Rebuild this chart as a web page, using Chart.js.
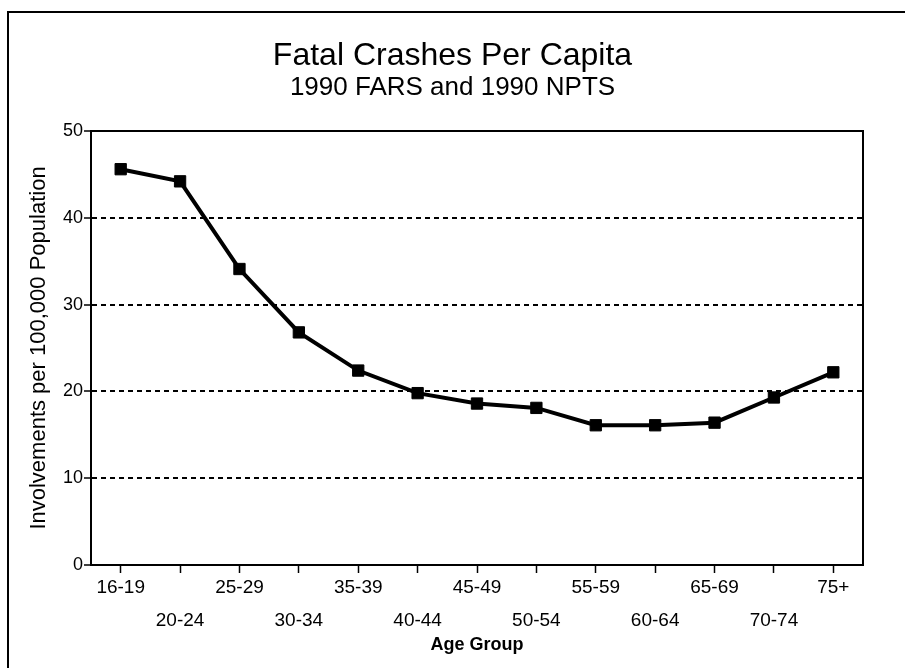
<!DOCTYPE html>
<html>
<head>
<meta charset="utf-8">
<title>Fatal Crashes Per Capita</title>
<script src="https://cdn.jsdelivr.net/npm/chart.js@4.4.0/dist/chart.umd.min.js"></script>
<style>
    html, body {
        margin: 0;
        padding: 0;
        background: #fff;
    }
    #wrap {
        position: relative;
        width: 905px;
        height: 668px;
        overflow: hidden;
    }
    #frame {
        position: absolute;
        left: 7px;
        top: 11px;
        right: -5px;
        bottom: -5px;
        border-top: 2px solid #000;
        border-left: 2px solid #000;
    }
    #chart {
        position: absolute;
        left: 0;
        top: 0;
    }
</style>
</head>
<body>
<div id="wrap">
    <div id="frame"></div>
    <canvas id="chart" width="905" height="668"></canvas>
</div>
<script>
// Values
const ageGroups = ['16-19', '20-24', '25-29', '30-34', '35-39', '40-44', '45-49',
                   '50-54', '55-59', '60-64', '65-69', '70-74', '75+'];
const involvements = [45.6, 44.2, 34.1, 26.8, 22.4, 19.8, 18.6, 18.1, 16.1, 16.1, 16.4, 19.3, 22.2];
const yMin = 0;
const yMax = 50;
const yStep = 10;

const FONT = "'Liberation Sans', Arial, Helvetica, sans-serif";

// labels alternate between two rows under the axis
const staggeredLabels = ageGroups.map((label, i) => (i % 2 === 0 ? [label] : ['', label]));

// top and right edges of the plot box
const plotBox = {
    id: 'plotBox',
    afterDraw(chart) {
        const { ctx, chartArea } = chart;
        ctx.save();
        ctx.strokeStyle = '#000';
        ctx.lineWidth = 2;
        ctx.beginPath();
        ctx.moveTo(chartArea.left, chartArea.top);
        ctx.lineTo(chartArea.right, chartArea.top);
        ctx.lineTo(chartArea.right, chartArea.bottom);
        ctx.stroke();
        ctx.restore();
    }
};

const ctx = document.getElementById('chart').getContext('2d');

new Chart(ctx, {
    type: 'line',
    data: {
        labels: staggeredLabels,
        datasets: [{
            label: 'Involvements',
            data: involvements,
            borderColor: '#000',
            backgroundColor: '#000',
            borderWidth: 4,
            tension: 0,
            fill: false,
            pointStyle: 'rect',
            pointRadius: 8,
            pointBorderWidth: 1,
            pointBackgroundColor: '#000',
            pointBorderColor: '#000'
        }]
    },
    options: {
        responsive: false,
        animation: false,
        layout: {
            padding: { top: 40, right: 0, bottom: 0, left: 0 }
        },
        plugins: {
            legend: { display: false },
            tooltip: { enabled: false },
            title: {
                display: true,
                text: 'Fatal Crashes Per Capita',
                color: '#000',
                font: { family: FONT, size: 32, weight: 'normal', lineHeight: 1 },
                padding: { top: 0, bottom: 3 }
            },
            subtitle: {
                display: true,
                text: '1990 FARS and 1990 NPTS',
                color: '#000',
                font: { family: FONT, size: 26, weight: 'normal', lineHeight: 1 },
                padding: { top: 0, bottom: 30 }
            }
        },
        scales: {
            x: {
                offset: true,
                afterFit(scale) {
                    scale.height = 103;
                },
                grid: {
                    drawOnChartArea: false,
                    drawTicks: true,
                    tickLength: 8,
                    tickColor: '#000',
                    tickWidth: 1.5,
                    offset: false
                },
                border: {
                    display: true,
                    color: '#000',
                    width: 2
                },
                ticks: {
                    color: '#000',
                    autoSkip: false,
                    maxRotation: 0,
                    padding: -2,
                    font: { family: FONT, size: 19, lineHeight: 1.75 }
                },
                title: {
                    display: true,
                    text: 'Age Group',
                    color: '#000',
                    font: { family: FONT, size: 18, weight: 'bold', lineHeight: 1.2 },
                    padding: { top: 0, bottom: 12 }
                }
            },
            y: {
                min: yMin,
                max: yMax,
                afterFit(scale) {
                    scale.width = 91;
                },
                grid: {
                    color: (c) => (c.tick && (c.tick.value === yMin || c.tick.value === yMax)) ? 'rgba(0,0,0,0)' : '#000',
                    lineWidth: 2,
                    tickColor: '#000',
                    tickWidth: 1.5,
                    tickLength: 7,
                    drawTicks: true
                },
                border: {
                    display: true,
                    color: '#000',
                    width: 2,
                    dash: [5, 4]
                },
                ticks: {
                    stepSize: yStep,
                    color: '#000',
                    padding: 1,
                    font: { family: FONT, size: 18 }
                },
                title: {
                    display: true,
                    text: 'Involvements per 100,000 Population',
                    color: '#000',
                    font: { family: FONT, size: 22, weight: 'normal', lineHeight: 1.2 },
                    padding: { top: 26, bottom: 0 }
                }
            },
            // empty right-hand axis, only reserves the margin so the titles centre on the page
            yRight: {
                position: 'right',
                min: yMin,
                max: yMax,
                afterFit(scale) {
                    scale.width = 42;
                },
                grid: { display: false },
                border: { display: false },
                ticks: { display: false }
            }
        }
    },
    plugins: [plotBox]
});
</script>
</body>
</html>
